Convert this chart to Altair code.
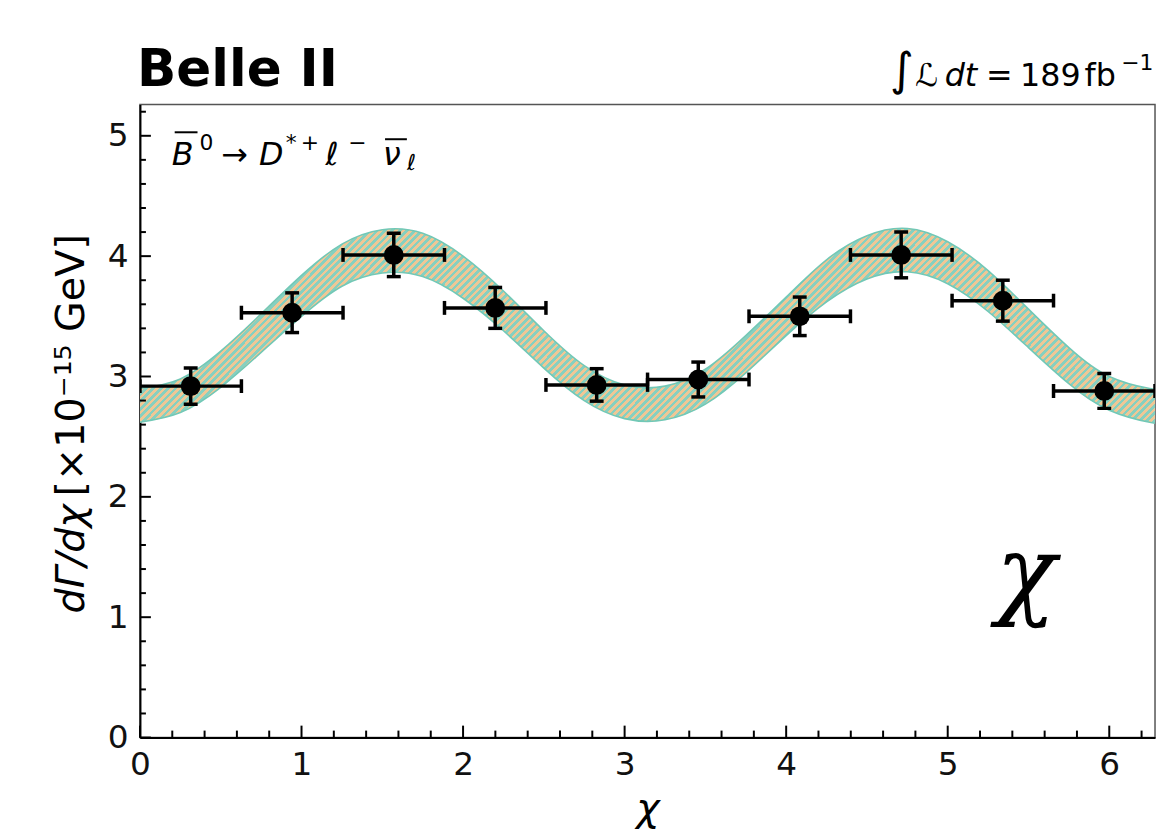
import altair as alt
import pandas as pd

# ---------------- data ----------------
chi_centers = [0.314, 0.942, 1.571, 2.199, 2.827, 3.456, 4.084, 4.712, 5.341, 5.969]
bin_lo = [0.0, 0.628, 1.257, 1.885, 2.513, 3.142, 3.770, 4.398, 5.027, 5.655]
bin_hi = [0.628, 1.257, 1.885, 2.513, 3.142, 3.770, 4.398, 5.027, 5.655, 6.283]
rate = [2.92, 3.53, 4.01, 3.57, 2.93, 2.975, 3.50, 4.01, 3.63, 2.88]
rate_err = [0.15, 0.165, 0.18, 0.17, 0.135, 0.145, 0.16, 0.19, 0.17, 0.145]

band_chi = [0.0, 0.25, 0.5, 0.75, 1.0, 1.25, 1.5, 1.75, 2.0, 2.25, 2.5, 2.75, 3.0,
            3.25, 3.5, 3.75, 4.0, 4.25, 4.5, 4.75, 5.0, 5.25, 5.5, 5.75, 6.0, 6.25, 6.2832]
band_lo = [2.62, 2.70, 2.91, 3.20, 3.50, 3.75, 3.86, 3.83, 3.65, 3.38, 3.07, 2.80, 2.65,
           2.64, 2.77, 3.03, 3.34, 3.62, 3.81, 3.87, 3.77, 3.54, 3.24, 2.94, 2.72, 2.62, 2.62]
band_hi = [2.90, 2.98, 3.21, 3.52, 3.84, 4.10, 4.22, 4.19, 4.00, 3.71, 3.38, 3.09, 2.93,
           2.92, 3.06, 3.34, 3.66, 3.97, 4.17, 4.23, 4.12, 3.88, 3.56, 3.24, 3.00, 2.90, 2.90]

x_major = [0, 1, 2, 3, 4, 5, 6]
x_minor = [0.2, 0.4, 0.6, 0.8, 1.2, 1.4, 1.6, 1.8, 2.2, 2.4, 2.6, 2.8, 3.2, 3.4, 3.6, 3.8,
           4.2, 4.4, 4.6, 4.8, 5.2, 5.4, 5.6, 5.8, 6.2]
y_major = [0, 1, 2, 3, 4, 5]
y_minor = [0.2, 0.4, 0.6, 0.8, 1.2, 1.4, 1.6, 1.8, 2.2, 2.4, 2.6, 2.8, 3.2, 3.4, 3.6, 3.8,
           4.2, 4.4, 4.6, 4.8, 5.2]

# ---------------- tables ----------------
pts = pd.DataFrame({"chi": chi_centers, "lo": bin_lo, "hi": bin_hi,
                    "rate": rate, "err": rate_err})
pts["ylo"] = pts["rate"] - pts["err"]
pts["yhi"] = pts["rate"] + pts["err"]
band = pd.DataFrame({"chi": band_chi, "lo": band_lo, "hi": band_hi})

W, H = 1023, 638
FONT = "DejaVu Sans"

xs = alt.Scale(domain=[0, 6.2832], nice=False, zero=False)
ys = alt.Scale(domain=[0, 5.26], nice=False, zero=False)
xax = alt.Axis(values=x_major, format="d", ticks=False, grid=False, domainColor="black",
               domainWidth=2, labelFont=FONT, labelFontSize=33, labelColor="#111111",
               labelPadding=11, labelFlush=False, labelOverlap=False,
               title="χ", titleFont=FONT, titleFontStyle="italic", titleFontWeight="normal",
               titleFontSize=40, titleColor="black", titleY=84, titleBaseline="alphabetic")
yax = alt.Axis(values=y_major, format="d", ticks=False, grid=False, domainColor="black",
               domainWidth=2, labelFont=FONT, labelFontSize=33, labelColor="#111111",
               labelPadding=12, labelFlush=False, labelOverlap=False, title="")


def X(f):
    return alt.X(f, type="quantitative", scale=xs, axis=xax)


def Y(f):
    return alt.Y(f, type="quantitative", scale=ys, axis=yax)


# hatched fill: teal with tan diagonal stripes
teal = "#86d0c0"
tan = "#efc795"
N = 170
stops = []
for i in range(N):
    a = i / N
    b = (i + 0.5) / N
    c = (i + 1) / N
    stops += [alt.GradientStop(offset=a, color=teal), alt.GradientStop(offset=b, color=teal),
              alt.GradientStop(offset=b, color=tan), alt.GradientStop(offset=c, color=tan)]
grad = alt.LinearGradient(gradient="linear", stops=stops, x1=0, y1=0, x2=1.2, y2=1.2 * 0.191)

band_area = alt.Chart(band).mark_area(fill=grad, interpolate="natural", clip=True).encode(
    x=X("chi"), y=Y("lo"), y2="hi")
edge_lo = alt.Chart(band).mark_line(color="#72c8b6", strokeWidth=1.6, interpolate="natural",
                                    clip=True).encode(x=X("chi"), y=Y("lo"))
edge_hi = alt.Chart(band).mark_line(color="#72c8b6", strokeWidth=1.6, interpolate="natural",
                                    clip=True).encode(x=X("chi"), y=Y("hi"))

hbar = alt.Chart(pts).mark_rule(color="black", strokeWidth=3.5, clip=True).encode(
    x=X("lo"), x2="hi", y=Y("rate"))
vbar = alt.Chart(pts).mark_rule(color="black", strokeWidth=3.5, clip=True).encode(
    x=X("chi"), y=Y("ylo"), y2="yhi")
cap_lo = alt.Chart(pts).mark_tick(color="black", orient="horizontal", size=14, thickness=3.5,
                                  opacity=1, clip=True).encode(x=X("chi"), y=Y("ylo"))
cap_hi = alt.Chart(pts).mark_tick(color="black", orient="horizontal", size=14, thickness=3.5,
                                  opacity=1, clip=True).encode(x=X("chi"), y=Y("yhi"))
capx_lo = alt.Chart(pts).mark_tick(color="black", orient="vertical", size=14, thickness=3.5,
                                   opacity=1, clip=True).encode(x=X("lo"), y=Y("rate"))
capx_hi = alt.Chart(pts).mark_tick(color="black", orient="vertical", size=14, thickness=3.5,
                                   opacity=1, clip=True).encode(x=X("hi"), y=Y("rate"))
dots = alt.Chart(pts).mark_circle(color="black", opacity=1, size=400).encode(
    x=X("chi"), y=Y("rate"))

# inward ticks
xt_maj = alt.Chart(pd.DataFrame({"v": x_major})).mark_rule(color="black", strokeWidth=2).encode(
    x=X("v"), y=alt.value(H), y2=alt.value(H - 12))
xt_min = alt.Chart(pd.DataFrame({"v": x_minor})).mark_rule(color="black", strokeWidth=2).encode(
    x=X("v"), y=alt.value(H), y2=alt.value(H - 7))
yt_maj = alt.Chart(pd.DataFrame({"v": y_major})).mark_rule(color="black", strokeWidth=2).encode(
    y=Y("v"), x=alt.value(0), x2=alt.value(11))
yt_min = alt.Chart(pd.DataFrame({"v": y_minor})).mark_rule(color="black", strokeWidth=2).encode(
    y=Y("v"), x=alt.value(0), x2=alt.value(6))


def label(text, x, y, size, style="normal", weight="normal", font=FONT, align="left",
          angle=0, baseline="alphabetic"):
    return alt.Chart(alt.Data(values=[{}])).mark_text(
        text=text, font=font, fontSize=size, fontStyle=style, fontWeight=weight,
        align=align, baseline=baseline, angle=angle, color="black").encode(
        x=alt.value(x), y=alt.value(y))


def bar(x1, x2, y):
    return alt.Chart(alt.Data(values=[{}])).mark_rule(color="black", strokeWidth=2).encode(
        x=alt.value(x1), x2=alt.value(x2), y=alt.value(y))


texts = [
    label("Belle II", -3, -19, 52, weight="bold"),
    # luminosity
    label("∫", 756, -20, 46),
    label("ℒ", 781, -19, 32),
    label("dt", 811, -19, 32, style="italic"),
    label("=", 866, -19, 32, align="center"),
    label("189", 887, -19, 32),
    label("fb", 952, -19, 32),
    label("−1", 989, -35, 22),
    # decay
    label("B", 32, 61, 32, style="italic"),
    bar(35, 58, 28),
    label("0", 60, 46, 22),
    label("→", 82, 61, 32),
    label("D", 120, 61, 32, style="italic"),
    label("*", 147, 46, 22),
    label("+", 162, 46, 22),
    label("ℓ", 187, 61, 32, style="italic"),
    label("−", 210, 46, 22),
    label("ν", 245, 61, 32, style="italic"),
    bar(247, 269, 35),
    label("ℓ", 269, 66, 22, style="italic"),
    # y title
    label("dΓ/dχ", -56, 513, 40, style="italic", angle=270),
    label("[×10⁻¹⁵ GeV]", -56, 395, 40, angle=270),
    # big chi
    label("χ", 893, 505, 100, style="italic", font="DejaVu Serif", align="center"),
]

chart = alt.layer(
    band_area, edge_lo, edge_hi, hbar, vbar, cap_lo, cap_hi, capx_lo, capx_hi, dots,
    xt_maj, xt_min, yt_maj, yt_min, *texts
).properties(
    width=W, height=H,
    autosize=alt.AutoSizeParams(type="none"),
    padding={"left": 133, "top": 94, "right": 2, "bottom": 100},
).configure_view(stroke="#555555", strokeWidth=1.5)

chart.save("out.html", embed_options={"renderer": "svg", "actions": False})
